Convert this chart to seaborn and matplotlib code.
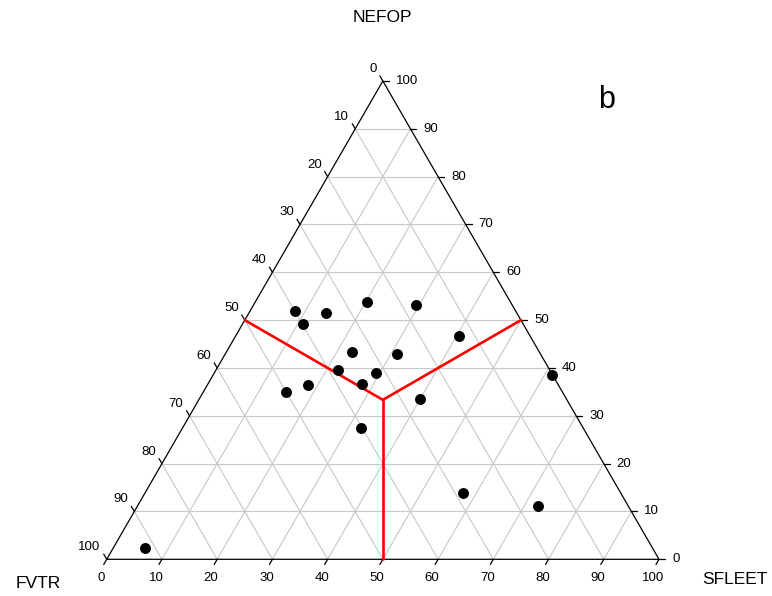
import numpy as np
import pandas as pd
import matplotlib
matplotlib.use('Agg')
import matplotlib.pyplot as plt
import seaborn as sns

sns.set_style('white')
plt.rcParams['font.family'] = ['Liberation Sans', 'DejaVu Sans']
plt.rcParams['text.color'] = 'black'

# 三元组分 (%)
nefop = [51.9, 51.5, 49.1, 53.7, 53.1, 46.7, 43.3, 43.0, 39.6, 38.9,
         36.6, 36.5, 34.9, 33.5, 27.5, 13.9, 11.1, 38.6, 2.3]
sfleet = [8.1, 13.9, 11.0, 20.3, 29.4, 40.5, 22.8, 31.1, 22.1, 29.3,
          27.9, 18.2, 15.1, 39.9, 32.3, 57.5, 72.5, 61.4, 5.7]
fvtr = [100 - n - s for n, s in zip(nefop, sfleet)]
ticks = list(range(0, 101, 10))

H = np.sqrt(3) / 2


def to_xy(s, n):
    # s = SFLEET, n = NEFOP (0-100)
    s = np.asarray(s, dtype=float) / 100
    n = np.asarray(n, dtype=float) / 100
    return s + n / 2, n * H


df = pd.DataFrame({'FVTR': fvtr, 'SFLEET': sfleet, 'NEFOP': nefop})
df['x'], df['y'] = to_xy(df['SFLEET'], df['NEFOP'])

fig = plt.figure(figsize=(7.72, 5.96), dpi=100)
ax = fig.add_axes([0, 0, 1, 1])
sc = 552.3  # 像素/单位
ax.set_xlim(-106.7 / sc, (772 - 106.7) / sc)
ax.set_ylim(-36.7 / sc, (596 - 36.7) / sc)
ax.axis('off')

grid_c = '#c8c8c8'
px = 1 / sc
for k in ticks[1:-1]:
    # NEFOP = k
    x0, y0 = to_xy(0, k)
    x1, y1 = to_xy(100 - k, k)
    ax.plot([x0, x1], [y0, y1], color=grid_c, lw=0.8, zorder=1)
    # SFLEET = k
    x0, y0 = to_xy(k, 0)
    x1, y1 = to_xy(k, 100 - k)
    ax.plot([x0, x1], [y0, y1], color=grid_c, lw=0.8, zorder=1)
    # FVTR = k
    x0, y0 = to_xy(100 - k, 0)
    x1, y1 = to_xy(0, 100 - k)
    ax.plot([x0, x1], [y0, y1], color=grid_c, lw=0.8, zorder=1)

# 三角形边框
ax.plot([0, 1, 0.5, 0], [0, 0, H, 0], color='black', lw=0.9, zorder=3)

tl = 6 * px
fs = 9.5
for k in ticks:
    # 底边 SFLEET
    x, y = to_xy(k, 0)
    ax.plot([x, x - tl * 0.5], [y, y - tl * H], color='black', lw=0.9)
    ax.text(x - 6 * px, y - 19 * px, str(k), ha='center', va='center', fontsize=fs)
    # 右边 NEFOP
    x, y = to_xy(100 - k, k)
    ax.plot([x, x + tl], [y, y], color='black', lw=0.9)
    ax.text(x + 13 * px, y, str(k), ha='left', va='center', fontsize=fs)
    # 左边 FVTR
    x, y = to_xy(0, 100 - k)
    ax.plot([x, x - tl * 0.5], [y, y + tl * H], color='black', lw=0.9)
    ax.text(x - 6 * px, y + 12 * px, str(k), ha='right', va='center', fontsize=fs)

# 红色分区线：重心到各边中点
cx, cy = to_xy(100 / 3, 100 / 3)
for s, n in [(0, 50), (50, 50), (50, 0)]:
    mx, my = to_xy(s, n)
    ax.plot([cx, mx], [cy, my], color='red', lw=1.9, zorder=4)

sns.scatterplot(data=df, x='x', y='y', color='black', s=62, edgecolor='black',
                linewidth=0, zorder=5, ax=ax, legend=False)

ax.text(0.5, (596 - 36.7 - 17) * px, 'NEFOP', ha='center', va='center', fontsize=12.5)
ax.text((38 - 106.7) * px, (559.3 - 583) * px, 'FVTR', ha='center', va='center', fontsize=12.5)
ax.text((735 - 106.7) * px, (559.3 - 580) * px, 'SFLEET', ha='center', va='center', fontsize=12.5)
ax.text((607 - 106.7) * px, (559.3 - 100) * px, 'b', ha='center', va='center', fontsize=22)

fig.savefig('out.png', dpi=100)
